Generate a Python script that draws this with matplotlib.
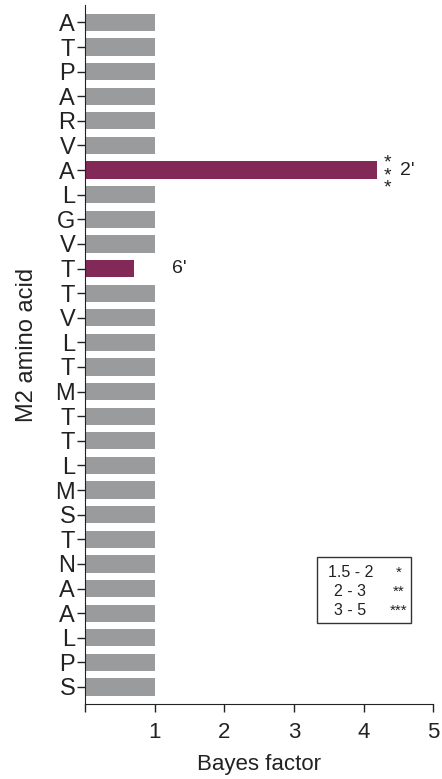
import matplotlib
matplotlib.use("Agg")
import matplotlib.pyplot as plt
import numpy as np

plt.rcParams['font.family'] = ['Liberation Sans', 'DejaVu Sans']

# M2 residues, listed top to bottom
residues = ["A", "T", "P", "A", "R", "V", "A", "L", "G", "V", "T", "T", "V", "L",
            "T", "M", "T", "T", "L", "M", "S", "T", "N", "A", "A", "L", "P", "S"]
bayes = [1, 1, 1, 1, 1, 1, 4.2, 1, 1, 1, 0.7, 1, 1, 1,
         1, 1, 1, 1, 1, 1, 1, 1, 1, 1, 1, 1, 1, 1]
highlight = [6, 10]  # positions 2' and 6'
site_labels = {6: "2'", 10: "6'"}
stars = {6: "***"}
legend_rows = [("1.5 - 2", "*"), ("2 - 3", "**"), ("3 - 5", "***")]

grey = "#9a9b9d"
purple = "#832957"
ink = "#222222"

fig = plt.figure(figsize=(4.42, 7.79), dpi=100)
ax = fig.add_axes([0.192, 0.096, 0.788, 0.898])

y = np.arange(len(residues))
colors = [purple if i in highlight else grey for i in range(len(residues))]
ax.barh(y, bayes, height=0.7, color=colors, edgecolor="none")

ax.set_ylim(len(residues) - 0.3, -0.72)
ax.set_xlim(0, 5)
ax.set_yticks(y)
ax.set_yticklabels(residues, fontsize=17)
ax.set_xticks([0, 1, 2, 3, 4, 5])
ax.set_xticklabels(["", "1", "2", "3", "4", "5"], fontsize=16)
ax.tick_params(axis="both", direction="out", length=6, width=1, colors=ink,
               labelcolor=ink)
ax.tick_params(axis="x", pad=7)
ax.tick_params(axis="y", pad=1)

for s in ["top", "right"]:
    ax.spines[s].set_visible(False)
for s in ["left", "bottom"]:
    ax.spines[s].set_color(ink)

ax.set_xlabel("Bayes factor", fontsize=16, labelpad=8, color=ink)
ax.set_ylabel("M2 amino acid", fontsize=17, color=ink)
ax.yaxis.set_label_coords(-0.135, 0.514)

# significance stars stacked beside the bar, then the site label
for i, s in stars.items():
    ax.text(bayes[i] + 0.15, i + 0.22, "\n".join(s), ha="center", va="center",
            fontsize=14, linespacing=0.62, color=ink)
for i, lab in site_labels.items():
    xpos = bayes[i] + 0.33 if i in stars else 1.25
    ax.text(xpos, i, lab, ha="left", va="center", fontsize=14, color=ink)

# star key
box = plt.Rectangle((3.33, 21.7), 1.35, 2.69, fill=False, edgecolor="#333333",
                    linewidth=1)
ax.add_patch(box)
for k, (rng, st) in enumerate(legend_rows):
    yy = 22.36 + k * 0.77
    ax.text(3.81, yy, rng, ha="center", va="center", fontsize=11.5, color=ink)
    ax.text(4.51, yy, st, ha="center", va="center", fontsize=11, color=ink)

fig.savefig("out.png", dpi=100)
